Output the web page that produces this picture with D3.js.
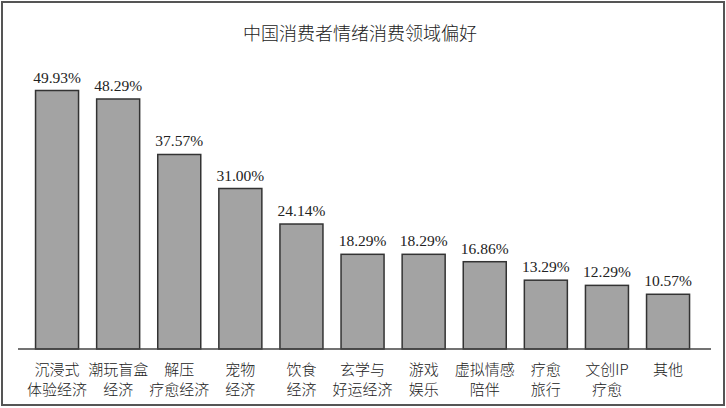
<!DOCTYPE html>
<html>
<head>
<meta charset="utf-8">
<script src="https://cdn.jsdelivr.net/npm/d3@7"></script>
<style>
  body { margin: 0; background: #fff; }
  svg { display: block; }
</style>
</head>
<body>
<div id="chart"></div>
<script>
const title = "中国消费者情绪消费领域偏好";
const categories = [
  ["沉浸式", "体验经济"],
  ["潮玩盲盒", "经济"],
  ["解压", "疗愈经济"],
  ["宠物", "经济"],
  ["饮食", "经济"],
  ["玄学与", "好运经济"],
  ["游戏", "娱乐"],
  ["虚拟情感", "陪伴"],
  ["疗愈", "旅行"],
  ["文创IP", "疗愈"],
  ["其他"]
];
const values = [49.93, 48.29, 37.57, 31.00, 24.14, 18.29, 18.29, 16.86, 13.29, 12.29, 10.57];

const W = 726, H = 408;
const baseY = 349;

const svg = d3.select("#chart").append("svg")
  .attr("width", W)
  .attr("height", H);

// outer frame
svg.append("rect")
  .attr("x", 2).attr("y", 2)
  .attr("width", W - 4).attr("height", H - 5)
  .attr("fill", "none")
  .attr("stroke", "#555")
  .attr("stroke-width", 2);

svg.append("text")
  .attr("x", 360)
  .attr("y", 40)
  .attr("text-anchor", "middle")
  .style("font-family", "'Noto Sans CJK SC', sans-serif")
  .style("font-size", "18px")
  .style("font-weight", 300)
  .attr("fill", "#222")
  .text(title);

const keys = categories.map((d, i) => i);

const x = d3.scaleBand()
  .domain(keys)
  .range([26.5, 698.6])
  .paddingInner(0.296)
  .paddingOuter(0.148);

const y = d3.scaleLinear()
  .domain([0, 49.93])
  .range([baseY, 90.5]);

svg.selectAll(".bar")
  .data(values)
  .enter().append("rect")
  .attr("class", "bar")
  .attr("x", (d, i) => x(i))
  .attr("width", x.bandwidth())
  .attr("y", d => y(d))
  .attr("height", d => baseY - y(d))
  .attr("fill", "#a3a3a3")
  .attr("stroke", "#333")
  .attr("stroke-width", 1.5);

svg.selectAll(".val")
  .data(values)
  .enter().append("text")
  .attr("class", "val")
  .attr("x", (d, i) => x(i) + x.bandwidth() / 2)
  .attr("y", d => y(d) - 8)
  .attr("text-anchor", "middle")
  .style("font-family", "'Liberation Serif', serif")
  .style("font-size", "15.5px")
  .attr("fill", "#222")
  .text(d => d.toFixed(2) + "%");

// baseline axis
svg.append("line")
  .attr("x1", 18).attr("x2", 711)
  .attr("y1", baseY).attr("y2", baseY)
  .attr("stroke", "#444")
  .attr("stroke-width", 1.5);

const lab = svg.selectAll(".cat")
  .data(categories)
  .enter().append("text")
  .attr("class", "cat")
  .attr("text-anchor", "middle")
  .style("font-family", "'Noto Sans CJK SC', sans-serif")
  .style("font-size", "15px")
  .style("font-weight", 300)
  .attr("fill", "#222");

lab.selectAll("tspan")
  .data((d, i) => d.map(s => ({ s, i })))
  .enter().append("tspan")
  .attr("x", d => x(d.i) + x.bandwidth() / 2)
  .attr("y", (d, j) => 375 + j * 19.5)
  .text(d => d.s);
</script>
</body>
</html>
